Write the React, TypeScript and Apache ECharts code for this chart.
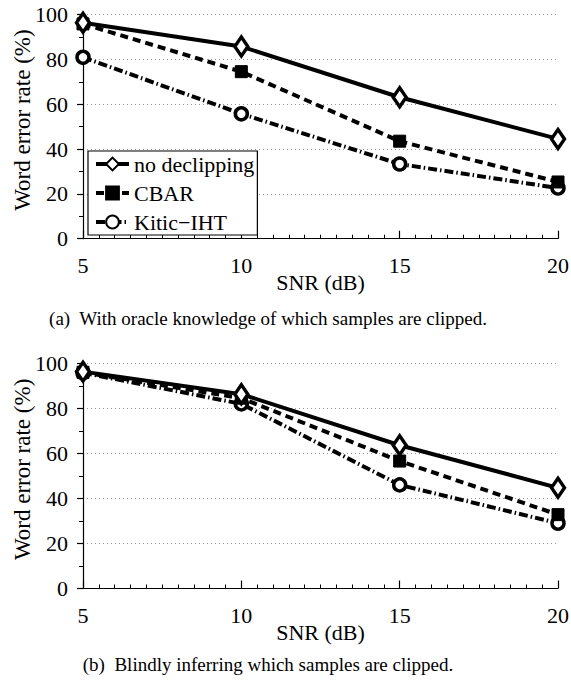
import React, { useEffect, useRef } from "react";
import * as echarts from "echarts";

const snr = [5, 10, 15, 20];
const seriesNames = ["no declipping", "CBAR", "Kitic\u2212IHT"];
const oracleNoDeclip = [96.3, 85.7, 63.1, 44.5];
const oracleCbar = [95.8, 74.5, 43.5, 25.3];
const oracleKitic = [80.9, 55.7, 33.3, 22.6];
const blindNoDeclip = [96.3, 86.3, 63.6, 44.7];
const blindCbar = [96.0, 84.5, 56.6, 32.8];
const blindKitic = [95.8, 82.0, 46.0, 29.0];
const captions = [
  "(a)  With oracle knowledge of which samples are clipped.",
  "(b)  Blindly inferring which samples are clipped.",
];
const xTitle = "SNR (dB)";
const yTitle = "Word error rate (%)";

const FONT = "Liberation Serif";

function makeSeries(gi: number, noDeclip: number[], cbar: number[], kitic: number[]) {
  const pts = (arr: number[]) => arr.map((v, i) => [snr[i], v]);
  return [
    {
      name: seriesNames[2],
      type: "line",
      xAxisIndex: gi,
      yAxisIndex: gi,
      data: pts(kitic),
      symbol: "circle",
      symbolSize: 12,
      itemStyle: { color: "#fff", borderColor: "#000", borderWidth: 3.5 },
      lineStyle: { color: "#000", width: 4, type: [9, 3, 1.5, 3] },
      z: 2,
    },
    {
      name: seriesNames[1],
      type: "line",
      xAxisIndex: gi,
      yAxisIndex: gi,
      data: pts(cbar),
      symbol: "rect",
      symbolSize: 12,
      itemStyle: { color: "#000", borderColor: "#000", borderWidth: 1 },
      lineStyle: { color: "#000", width: 4, type: [8, 5] },
      z: 3,
    },
    {
      name: seriesNames[0],
      type: "line",
      xAxisIndex: gi,
      yAxisIndex: gi,
      data: pts(noDeclip),
      symbol: "diamond",
      symbolSize: [13, 19],
      itemStyle: { color: "#fff", borderColor: "#000", borderWidth: 3.5 },
      lineStyle: { color: "#000", width: 4 },
      z: 4,
    },
  ];
}

function xAxis(gi: number) {
  return {
    type: "value",
    gridIndex: gi,
    min: 5,
    max: 20,
    interval: 5,
    name: xTitle,
    nameLocation: "middle",
    nameGap: 33,
    nameMoveOverlap: false,
    nameTextStyle: { fontFamily: FONT, fontSize: 22, color: "#000" },
    axisLine: { show: true, lineStyle: { color: "#000", width: 1.2 } },
    axisTick: { show: true, inside: true, length: 8, lineStyle: { color: "#000", width: 1.2 } },
    minorTick: { show: true, splitNumber: 10, length: 4, lineStyle: { color: "#000", width: 1 } },
    axisLabel: { fontFamily: FONT, fontSize: 22, color: "#000", margin: 16 },
    splitLine: { show: false },
  };
}

function yAxis(gi: number) {
  return {
    type: "value",
    gridIndex: gi,
    min: 0,
    max: 100,
    interval: 20,
    name: yTitle,
    nameLocation: "middle",
    nameGap: 49,
    nameMoveOverlap: false,
    nameTextStyle: { fontFamily: FONT, fontSize: 23, color: "#000", padding: [0, 0, 0, 13] },
    axisLine: { show: true, lineStyle: { color: "#000", width: 1.2 } },
    axisTick: { show: true, inside: false, length: 6, lineStyle: { color: "#000", width: 1.2 } },
    minorTick: { show: true, splitNumber: 2, length: 4, lineStyle: { color: "#000", width: 1 } },
    axisLabel: { fontFamily: FONT, fontSize: 22, color: "#000", margin: 15 },
    splitLine: { show: true, lineStyle: { color: "#999", width: 1, type: [1, 3] } },
  };
}

export default function App() {
  const ref = useRef<HTMLDivElement>(null);
  useEffect(() => {
    if (!ref.current) return;
    const chart = echarts.init(ref.current, null, { renderer: "svg" });
    chart.setOption({
      animation: false,
      backgroundColor: "#fff",
      textStyle: { fontFamily: FONT },
      graphic: [
        {
          type: "text",
          x: 268,
          y: 318,
          style: {
            text: captions[0],
            textAlign: "center",
            textVerticalAlign: "middle",
            font: `19px ${FONT}`,
            fill: "#000",
          },
        },
        {
          type: "text",
          x: 268,
          y: 664,
          style: {
            text: captions[1],
            textAlign: "center",
            textVerticalAlign: "middle",
            font: `19px ${FONT}`,
            fill: "#000",
          },
        },
      ],
      grid: [
        { left: 83, top: 14.5, width: 475, height: 224.2, outerBoundsMode: "none", containLabel: false },
        { left: 83, top: 363.3, width: 475, height: 225.2, outerBoundsMode: "none", containLabel: false },
      ],
      xAxis: [xAxis(0), xAxis(1)],
      yAxis: [yAxis(0), yAxis(1)],
      legend: {
        data: seriesNames,
        orient: "vertical",
        left: 88,
        top: 151,
        itemWidth: 33,
        itemHeight: 16,
        itemGap: 7,
        padding: [2, 3, 2, 6],
        borderColor: "#000",
        borderWidth: 1.2,
        backgroundColor: "#fff",
        selectedMode: false,
        lineStyle: { width: 4 },
        textStyle: { fontFamily: FONT, fontSize: 22, color: "#000" },
      },
      series: [
        ...makeSeries(0, oracleNoDeclip, oracleCbar, oracleKitic),
        ...makeSeries(1, blindNoDeclip, blindCbar, blindKitic),
      ],
    });
    return () => chart.dispose();
  }, []);
  return (
    <div
      ref={ref}
      style={{ position: "absolute", left: 0, top: 0, width: 571, height: 682 }}
    />
  );
}
